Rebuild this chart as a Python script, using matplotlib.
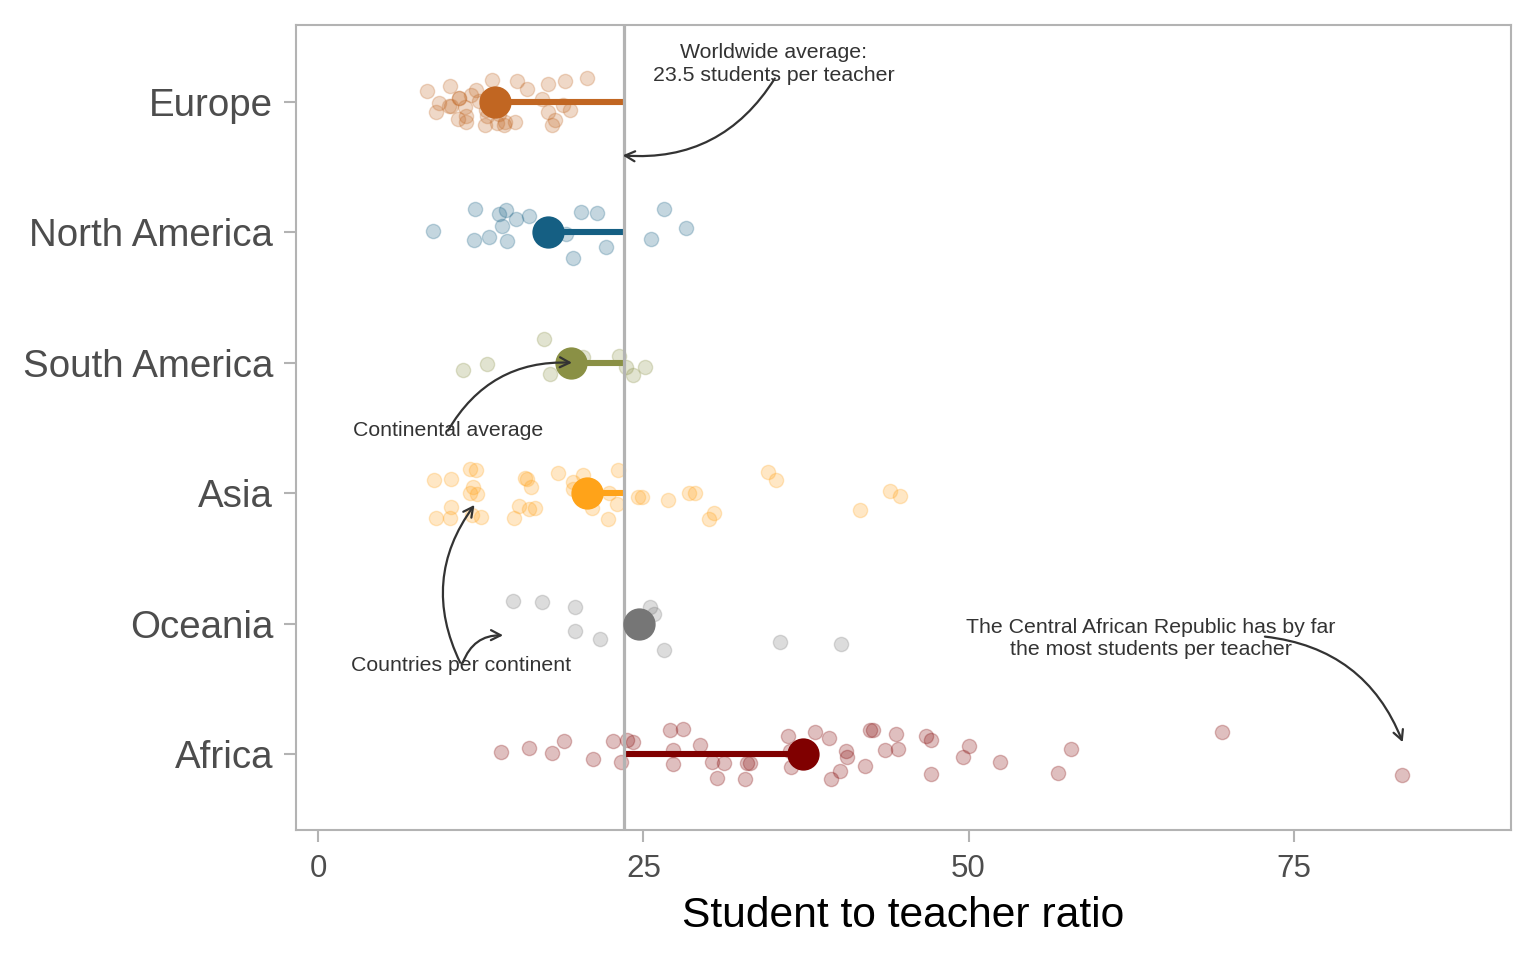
import matplotlib
matplotlib.use("Agg")
import matplotlib.pyplot as plt

plt.rcParams['font.family'] = ['Liberation Sans', 'DejaVu Sans']

regions = ["Africa", "Oceania", "Asia", "South America", "North America", "Europe"]
colors = ["#800000", "#767676", "#FFA319", "#8A9045", "#155F83", "#C16622"]
world_avg = 23.5
region_means = [37.3, 24.65, 20.65, 19.46, 17.65, 13.58]

europe_x = [8.32,10.14,9.27,9.01,10.06,10.22,10.78,10.83,11.27,10.76,11.35,11.32,11.73,12.14,12.32,13.32,12.78,12.94,13.75,14.35,14.29,15.09,15.25,16.06,17.22,17.63,17.68,18.19,17.94,18.94,18.78,19.35,20.63,13.0,13.9,12.9]
europe_j = [.084,.12,-.01,-.08,-.03,-.03,.03,.03,-.04,-.13,-.11,-.15,.05,.09,.005,.17,-.18,-.11,-.16,-.15,-.18,-.15,.16,.10,.02,.135,-.075,-.135,-.18,.16,-.025,-.06,.18,.03,-.09,-.06]
namerica_x = [8.83,12.06,11.99,13.09,13.86,14.4,14.09,14.47,15.22,16.19,19.01,20.19,21.45,22.12,19.6,25.6,26.55,28.27]
namerica_j = [.008,.18,-.06,-.035,.14,.17,.05,-.065,.105,.125,-.01,.155,.15,-.115,-.195,-.05,.18,.03]
samerica_x = [17.37,11.14,12.94,17.81,20.37,23.14,23.63,24.17,25.09]
samerica_j = [.185,-.055,-.01,-.09,.045,.05,-.035,-.095,-.035]
asia_x = [8.86,10.19,11.65,12.09,11.91,11.65,12.17,10.17,9.01,10.14,11.78,12.5,15.88,16.06,16.32,15.45,16.22,16.63,15.06,18.42,19.6,19.6,20.32,22.35,21.06,22.94,22.29,23.06,24.55,24.91,26.91,28.52,28.99,30.4,30.04,34.58,35.19,41.65,43.96,44.73]
asia_j = [.10,.11,.185,.175,.045,.005,-.01,-.105,-.19,-.19,-.17,-.185,.115,.11,.05,-.10,-.12,-.11,-.19,.155,.085,.035,.14,0,-.11,-.085,-.195,.175,-.03,-.03,-.05,.005,.005,-.15,-.195,.16,.10,-.13,.015,-.02]
oceania_x = [14.94,17.19,19.73,19.73,21.63,25.48,25.78,26.55,35.5,40.19]
oceania_j = [.175,.165,.13,-.06,-.115,.125,.075,-.205,-.145,-.155]
africa_x = [14.04,16.19,17.94,18.91,21.09,22.63,23.25,23.75,24.22,27.06,28.04,27.29,27.25,29.37,30.29,31.17,30.65,32.94,33.19,32.81,36.14,36.27,36.35,38.22,39.24,40.6,40.68,40.12,39.42,42.06,42.42,42.68,43.55,44.45,44.6,46.73,47.14,47.14,49.6,50.04,52.42,56.88,57.86,69.5,83.35]
africa_j = [.015,.045,.005,.10,-.035,.10,-.06,.105,.095,.18,.195,.03,-.08,.07,-.06,-.07,-.185,-.07,-.07,-.195,.14,.025,-.10,.17,.12,.025,-.02,-.13,-.19,-.09,.18,.18,.03,.155,.04,.14,.105,-.15,-.02,.06,-.06,-.145,.04,.17,-.16]

series_x = [africa_x, oceania_x, asia_x, samerica_x, namerica_x, europe_x]
series_j = [africa_j, oceania_j, asia_j, samerica_j, namerica_j, europe_j]
x_ticks = [0, 25, 50, 75]

W, H = 1536, 960
fig = plt.figure(figsize=(W/100, H/100), dpi=100)
ax = fig.add_axes([296/W, 1-830/H, (1511-296)/W, (830-25)/H])
ax.set_xlim(-1.73, 91.73)
ax.set_ylim(0.417, 6.59)

GRAY = "#b3b3b3"
for s in ax.spines.values():
    s.set_color(GRAY)
    s.set_linewidth(1.5)

for i, (xs, js, c, m) in enumerate(zip(series_x, series_j, colors, region_means)):
    lvl = i + 1
    ys = [lvl + j for j in js]
    ax.scatter(xs, ys, s=105, facecolor=c, edgecolor=c, linewidth=1.0, alpha=0.25, zorder=2)
    ax.plot([world_avg, m], [lvl, lvl], color=c, lw=4.4, solid_capstyle='butt', zorder=3)
    ax.scatter([m], [lvl], s=540, color=c, linewidth=0, zorder=4)

ax.axvline(world_avg, color=GRAY, lw=2.3, zorder=3.5)

ax.set_yticks(range(1, 7))
ax.set_yticklabels(regions, fontsize=27.7, color="#4d4d4d")
ax.set_xticks(x_ticks)
ax.set_xticklabels([str(t) for t in x_ticks], fontsize=22.5, color="#4d4d4d")
ax.tick_params(axis='y', length=8.5, width=1.5, color=GRAY, pad=8)
ax.tick_params(axis='x', length=8.5, width=1.5, color=GRAY, pad=8.5)
ax.set_xlabel("Student to teacher ratio", fontsize=30.7, color="black", labelpad=9)

ANN = "#333333"
def note(txt, x, y):
    ax.text(x, y, txt, ha='center', va='center', fontsize=15.3, color=ANN, linespacing=1.22, zorder=6)

def arrow(start, end, rad):
    ax.annotate("", xy=end, xytext=start, zorder=7,
                arrowprops=dict(arrowstyle="->,head_length=0.7,head_width=0.36", color=ANN, lw=1.6,
                                connectionstyle=f"arc3,rad={rad}", shrinkA=0, shrinkB=0))

note("Worldwide average:\n23.5 students per teacher", 35, 6.29)
note("Continental average", 10, 3.48)
note("Countries per continent", 11, 1.675)
note("The Central African Republic has by far\nthe most students per teacher", 64, 1.885)

arrow((35.1, 6.18), (23.4, 5.59), -0.3)
arrow((9.96, 3.48), (19.5, 4.0), -0.3)
arrow((10.9, 1.7), (12.0, 2.91), -0.3)
arrow((11.1, 1.7), (14.2, 1.91), -0.35)
arrow((72.8, 1.9), (83.4, 1.09), -0.3)

fig.savefig("out.png", dpi=100)
